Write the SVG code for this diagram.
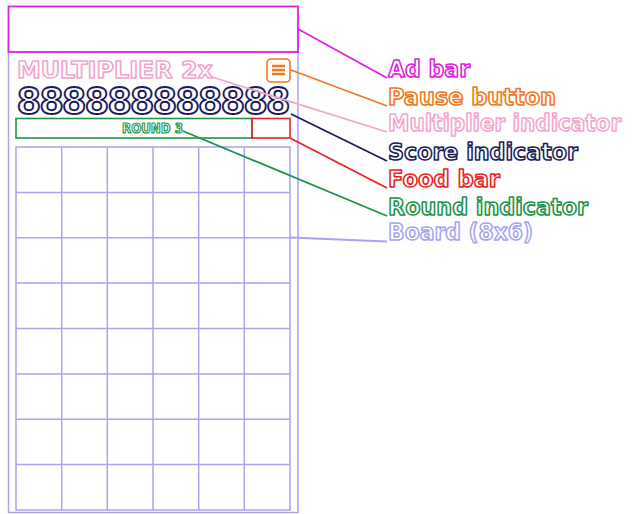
<svg xmlns="http://www.w3.org/2000/svg" width="632" height="514" viewBox="0 0 632 514">
<style>
.lbl{font-family:"DejaVu Sans",sans-serif;font-weight:bold;font-size:23px;fill:#fff;stroke-width:1.6;stroke-linejoin:round}
.ln{fill:none;stroke-width:1.8}
.grid{stroke:#a8a4f0;stroke-width:1.5;fill:none}
</style>
<rect width="632" height="514" fill="#fff"/>
<g id="phone-frame">
<rect x="8.5" y="40" width="289.5" height="472.5" fill="none" stroke="#a8a4f0" stroke-width="1.5"/>
</g>
<g id="ad-bar">
<rect x="8.5" y="6.5" width="289.5" height="45.5" fill="#fff" stroke="#e020e0" stroke-width="1.8"/>
</g>
<g id="multiplier-indicator">
<text x="17" y="78" class="lbl" style="stroke:#f2a6cf;font-size:23px" textLength="196" lengthAdjust="spacingAndGlyphs">MULTIPLIER 2x</text>
</g>
<g id="pause-button">
<rect x="267" y="59" width="23" height="23" rx="4" fill="#fff" stroke="#f07820" stroke-width="1.6"/>
<path d="M272 66H285M272 70H285M272 74H285" stroke="#f07820" stroke-width="2.4" fill="none"/>
</g>
<g id="score-indicator">
<text x="17.5" y="114" style="font-family:'Liberation Sans',sans-serif;font-weight:bold;font-size:39px;fill:#fff;stroke:#1c1c5c;stroke-width:1.8;stroke-linejoin:round" textLength="272" lengthAdjust="spacingAndGlyphs">888888888888</text>
</g>
<g id="round-indicator">
<rect x="16" y="118.5" width="236" height="19.5" fill="none" stroke="#22924a" stroke-width="1.6"/>
<text x="152.5" y="133" text-anchor="middle" style="font-family:'DejaVu Sans',sans-serif;font-weight:bold;font-size:13.5px;fill:#fff;stroke:#22924a;stroke-width:1.2;stroke-linejoin:round" textLength="61" lengthAdjust="spacingAndGlyphs">ROUND 3</text>
</g>
<g id="food-bar">
<rect x="252" y="118.5" width="38" height="19.5" fill="none" stroke="#e82424" stroke-width="1.6"/>
</g>
<g id="board">
<rect class="grid" x="16" y="147" width="274" height="363"/>
<path class="grid" d="M61.7 147V510M107.3 147V510M153 147V510M198.7 147V510M244.3 147V510M16 192.4H290M16 237.8H290M16 283.1H290M16 328.5H290M16 373.9H290M16 419.3H290M16 464.6H290"/>
</g>
<g id="connectors">
<polyline class="ln" stroke="#e020e0" points="298,29 387,78"/>
<polyline class="ln" stroke="#f07820" points="291,70 387,106"/>
<polyline class="ln" stroke="#f2a6cf" points="212,77 387,132"/>
<polyline class="ln" stroke="#1c1c5c" points="291,114 387,161"/>
<polyline class="ln" stroke="#e82424" points="290,138 387,188"/>
<polyline class="ln" stroke="#22924a" points="183,131 387,216"/>
<polyline class="ln" stroke="#a8a4f0" points="290,237.5 387,241.5"/>
</g>
<g id="label-ad-bar"><text x="388" y="77" class="lbl" style="stroke:#e020e0" textLength="82" lengthAdjust="spacingAndGlyphs">Ad bar</text></g>
<g id="label-pause-button"><text x="388" y="105" class="lbl" style="stroke:#f07820" textLength="168" lengthAdjust="spacingAndGlyphs">Pause button</text></g>
<g id="label-multiplier-indicator"><text x="388" y="131" class="lbl" style="stroke:#f2a6cf;font-size:22.5px" textLength="233" lengthAdjust="spacingAndGlyphs">Multiplier indicator</text></g>
<g id="label-score-indicator"><text x="388" y="160" class="lbl" style="stroke:#1c1c5c" textLength="190" lengthAdjust="spacingAndGlyphs">Score indicator</text></g>
<g id="label-food-bar"><text x="388" y="187" class="lbl" style="stroke:#e82424" textLength="112" lengthAdjust="spacingAndGlyphs">Food bar</text></g>
<g id="label-round-indicator"><text x="388" y="215" class="lbl" style="stroke:#22924a" textLength="200" lengthAdjust="spacingAndGlyphs">Round indicator</text></g>
<g id="label-board"><text x="388" y="240" class="lbl" style="stroke:#a8a4f0" textLength="145" lengthAdjust="spacingAndGlyphs">Board (8x6)</text></g>
</svg>
